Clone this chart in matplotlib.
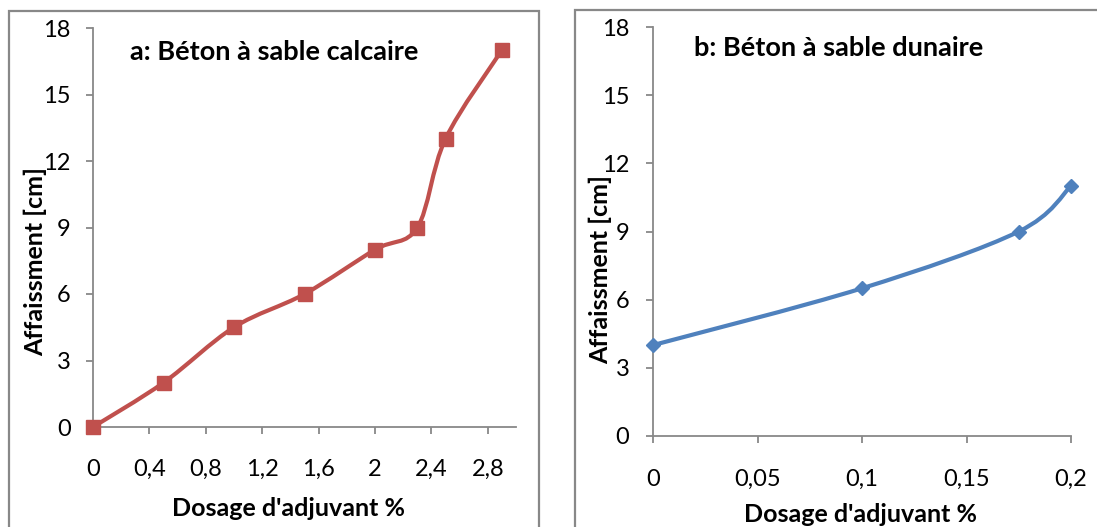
import numpy as np
import matplotlib
matplotlib.use("Agg")
import matplotlib.pyplot as plt
from matplotlib.path import Path
from matplotlib.patches import PathPatch, Rectangle
from matplotlib.ticker import FuncFormatter

plt.rcParams['font.family'] = ['Lato', 'DejaVu Sans']

# données
dosage_a = [0, 0.5, 1.0, 1.5, 2.0, 2.3, 2.5, 2.9]
affaissement_a = [0, 2, 4.5, 6, 8, 9, 13, 17]
dosage_b = [0, 0.1, 0.175, 0.2]
affaissement_b = [4, 6.5, 9, 11]

xticks_a = [0, 0.4, 0.8, 1.2, 1.6, 2.0, 2.4, 2.8]
xticks_b = [0, 0.05, 0.1, 0.15, 0.2]
yticks = [0, 3, 6, 9, 12, 15, 18]

titre_a = 'a: Béton à sable calcaire'
titre_b = 'b: Béton à sable dunaire'
xlabel = "Dosage d'adjuvant %"
ylabel = 'Affaissment [cm]'

RED = '#C0504D'
BLUE = '#4F81BD'
GRAY = '#888888'

W, H = 1097, 527


def smooth_path(x, y):
    # courbe lissée façon Excel (Bézier cubique)
    p = np.column_stack([x, y]).astype(float)
    n = len(p)
    verts = [p[0]]
    codes = [Path.MOVETO]
    for i in range(n - 1):
        p0 = p[i - 1] if i > 0 else p[i]
        p3 = p[i + 2] if i + 2 < n else p[i + 1]
        c1 = p[i] + (p[i + 1] - p0) / 6
        c2 = p[i + 1] - (p3 - p[i]) / 6
        verts += [c1, c2, p[i + 1]]
        codes += [Path.CURVE4] * 3
    return Path(verts, codes)


def comma(v, pos):
    return ('%g' % v).replace('.', ',')


def fx(px):
    return px / W


def fy(py):
    return 1 - py / H


fig = plt.figure(figsize=(W / 100, H / 100), dpi=100)

# cadres des deux graphiques
fig.patches.append(Rectangle((fx(9), fy(600)), fx(539 - 9), (600 - 11) / H,
                             transform=fig.transFigure, fill=False,
                             edgecolor=GRAY, linewidth=1.6))
fig.patches.append(Rectangle((fx(575), fy(600)), fx(700), (600 - 10) / H,
                             transform=fig.transFigure, fill=False,
                             edgecolor=GRAY, linewidth=1.6))

ax1 = fig.add_axes([fx(93), fy(427), fx(516 - 93), (427 - 28) / H])
ax2 = fig.add_axes([fx(653), fy(436), fx(1071 - 653), (436 - 27) / H])

for ax, x, y, col, mk, ms, xt, xmax in [
        (ax1, dosage_a, affaissement_a, RED, 's', 10, xticks_a, 3.0),
        (ax2, dosage_b, affaissement_b, BLUE, 'D', 7.5, xticks_b, 0.2)]:
    ax.add_patch(PathPatch(smooth_path(x, y), fill=False, edgecolor=col,
                           linewidth=3, capstyle='round', zorder=3))
    ax.plot(x, y, linestyle='none', marker=mk, markersize=ms, color=col,
            zorder=4, clip_on=False)
    ax.set_xlim(0, xmax)
    ax.set_ylim(0, 18)
    ax.set_xticks(xt)
    ax.set_yticks(yticks)
    ax.xaxis.set_major_formatter(FuncFormatter(comma))
    for s in ['top', 'right']:
        ax.spines[s].set_visible(False)
    for s in ['left', 'bottom']:
        ax.spines[s].set_color(GRAY)
        ax.spines[s].set_linewidth(1.3)
    ax.tick_params(direction='out', length=5, width=1.3, color=GRAY,
                   labelsize=17, labelcolor='black')
    ax.patch.set_alpha(0)

ax1.tick_params(axis='x', pad=18)
ax1.tick_params(axis='y', pad=11)
ax2.tick_params(axis='x', pad=19)
ax2.tick_params(axis='y', pad=12)

# titres
fig.text(fx(274), fy(52), titre_a, fontsize=19.5, fontweight='bold',
         ha='center', va='center')
fig.text(fx(839), fy(48), titre_b, fontsize=19.5, fontweight='bold',
         ha='center', va='center')

# étiquettes des axes
fig.text(fx(35), fy(262), ylabel, fontsize=18, fontweight='bold',
         rotation=90, ha='center', va='center')
fig.text(fx(600), fy(270), ylabel, fontsize=18, fontweight='bold',
         rotation=90, ha='center', va='center')
fig.text(fx(288), fy(508), xlabel, fontsize=18, fontweight='bold',
         ha='center', va='center')
fig.text(fx(860), fy(514), xlabel, fontsize=18, fontweight='bold',
         ha='center', va='center')

fig.savefig('out.png', dpi=100)
